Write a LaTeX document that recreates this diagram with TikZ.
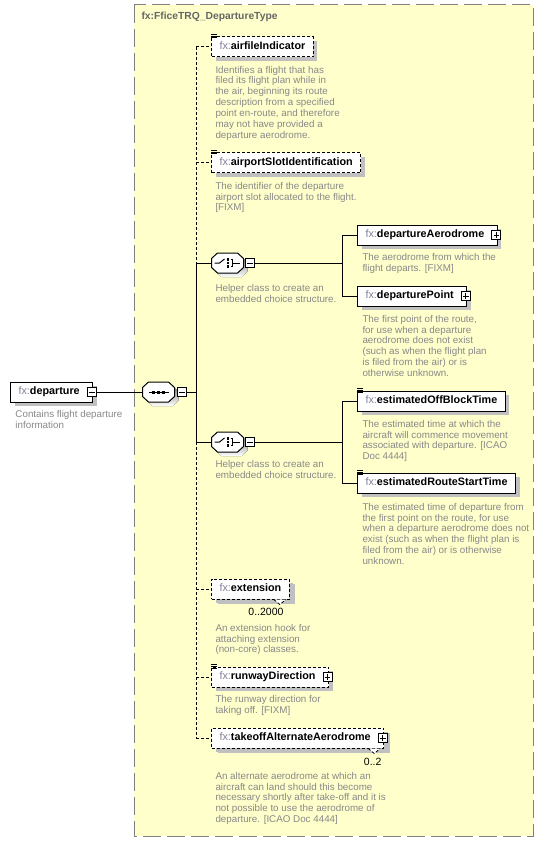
\documentclass[tikz,border=0pt]{standalone}
\usepackage{fontspec}
\setmainfont{Liberation Sans}
\usetikzlibrary{positioning,shadows}
\definecolor{schemabg}{RGB}{255,255,204}
\definecolor{schemaedge}{RGB}{128,128,128}
\definecolor{titlegray}{RGB}{102,102,102}
\definecolor{annotgray}{RGB}{136,136,136}
\definecolor{prefixgray}{RGB}{128,128,150}
\definecolor{shade}{RGB}{192,192,192}
\newcommand{\fxname}[1]{{\color{prefixgray}fx:}\textbf{#1}}

\begin{document}
\begin{tikzpicture}[x=1pt, y=-1pt, line width=1pt,
    elem/.style={draw, fill=white, anchor=west, minimum height=20pt,
                 inner xsep=8pt, inner ysep=0pt, text height=7.6pt, text depth=2.2pt,
                 font=\fontsize{10.8}{12}\selectfont,
                 drop shadow={shadow xshift=4pt, shadow yshift=-4pt, fill=shade, opacity=1}},
    opt/.style={dash pattern=on 3pt off 2pt},
    many/.style={drop shadow={shadow xshift=6pt, shadow yshift=-5pt, fill=shade, opacity=1}},
    kids/.style={execute at end node={\hspace{5pt}}},
    compositor/.style={anchor=west, minimum width=32pt, minimum height=20pt, inner sep=0pt},
    minusbox/.style={draw, fill=white, minimum size=9pt, inner sep=0pt,
                     path picture={\draw ([xshift=-2.8pt]path picture bounding box.center)
                                        -- ([xshift=2.8pt]path picture bounding box.center);}},
    plusbox/.style={draw, fill=white, minimum size=9pt, inner sep=0pt,
                    path picture={\draw ([xshift=-2.8pt]path picture bounding box.center)
                                       -- ([xshift=2.8pt]path picture bounding box.center);
                                  \draw ([yshift=-2.8pt]path picture bounding box.center)
                                       -- ([yshift=2.8pt]path picture bounding box.center);}},
    annot/.style={anchor=north west, inner sep=0pt, align=left, text=annotgray,
                  font=\fontsize{9.8}{10.9}\selectfont},
    card/.style={anchor=east, inner sep=0pt, font=\fontsize{10.5}{12}\selectfont},
]
\useasboundingbox (0,0) rectangle (544,842);

% Complex type frame
\fill[schemabg] (134,5) rectangle (533,836);
\draw[schemaedge, dash pattern=on 18pt off 6pt] (134,5) rectangle (533,836);
\node[anchor=west, inner sep=0pt, text=titlegray, font=\fontsize{10.3}{12}\selectfont\bfseries]
    (title) at (141,17) {fx:FficeTRQ\_DepartureType};

% Root element and sequence
\node[elem, kids] (dep) at (10,392) {\fxname{departure}};
\node[annot] (depDoc) at (15,409.5) {Contains flight departure\\information};
\node[compositor] (seq) at (142,392) {};

% Children of the sequence
\node[elem, opt] (airfile) at (211,47) {\fxname{airfileIndicator}};
\node[annot] (airfileDoc) at (215,65.5) {Identifies a flight that has\\filed its flight plan while in\\the air, beginning its route\\description from a specified\\point en-route, and therefore\\may not have provided a\\departure aerodrome.};
\node[elem, opt] (slot) at (211,163) {\fxname{airportSlotIdentification}};
\node[annot] (slotDoc) at (215,181.5) {The identifier of the departure\\airport slot allocated to the flight.\\{}[FIXM]};

\node[compositor] (ch1) at (211,263) {};
\node[annot] (ch1Doc) at (215,283.5) {Helper class to create an\\embedded choice structure.};
\node[elem, kids] (depAero) at (357,235) {\fxname{departureAerodrome}};
\node[annot] (depAeroDoc) at (362,252.5) {The aerodrome from which the\\flight departs. [FIXM]};
\node[elem, kids] (depPoint) at (357,296) {\fxname{departurePoint}};
\node[annot] (depPointDoc) at (362,314.5) {The first point of the route,\\for use when a departure\\aerodrome does not exist\\(such as when the flight plan\\is filed from the air) or is\\otherwise unknown.};

\node[compositor] (ch2) at (211,442) {};
\node[annot] (ch2Doc) at (215,459.5) {Helper class to create an\\embedded choice structure.};
\node[elem] (offBlock) at (357,401) {\fxname{estimatedOffBlockTime}};
\node[annot] (offBlockDoc) at (362,419.5) {The estimated time at which the\\aircraft will commence movement\\associated with departure. [ICAO\\Doc 4444]};
\node[elem] (routeStart) at (357,483) {\fxname{estimatedRouteStartTime}};
\node[annot] (routeStartDoc) at (362,502.5) {The estimated time of departure from\\the first point on the route, for use\\when a departure aerodrome does not\\exist (such as when the flight plan is\\filed from the air) or is otherwise\\unknown.};

\node[elem, opt, many] (ext) at (211,589) {\fxname{extension}};
\node[card] (extCard) at (284,612) {0..2000};
\node[annot] (extDoc) at (215,623.5) {An extension hook for\\attaching extension\\(non-core) classes.};
\node[elem, opt, kids] (rwyDir) at (211,677) {\fxname{runwayDirection}};
\node[annot] (rwyDirDoc) at (215,694.5) {The runway direction for\\taking off. [FIXM]};
\node[elem, opt, kids, many] (tkoAlt) at (211,738) {\fxname{takeoffAlternateAerodrome}};
\node[card] (tkoCard) at (382,762) {0..2};
\node[annot] (tkoAltDoc) at (215,771.5) {An alternate aerodrome at which an\\aircraft can land should this become\\necessary shortly after take-off and it is\\not possible to use the aerodrome of\\departure. [ICAO Doc 4444]};

% Compositor outlines (octagons with shadow)
\foreach \c in {seq,ch1,ch2} {
    \fill[shade] ([shift={(4,4)}]\c.center) +(-16,-4.5) -- +(-10,-10) -- +(10,-10) -- +(16,-4.5)
        -- +(16,4.5) -- +(10,10) -- +(-10,10) -- +(-16,4.5) -- cycle;
    \filldraw[fill=white] (\c.center) +(-16,-4.5) -- +(-10,-10) -- +(10,-10) -- +(16,-4.5)
        -- +(16,4.5) -- +(10,10) -- +(-10,10) -- +(-16,4.5) -- cycle;
}

% Expand / collapse buttons
\node[minusbox] (depM) at ([xshift=-1.5pt]dep.east) {};
\node[minusbox, right=2pt of seq] (seqM) {};
\node[minusbox, right=1pt of ch1] (ch1M) {};
\node[minusbox, right=1pt of ch2] (ch2M) {};
\foreach \n in {depAero,depPoint,rwyDir,tkoAlt}
    \node[plusbox] (\n-p) at ([xshift=-1.5pt]\n.east) {};

% Simple content marks and repeat notches
\foreach \n in {airfile,slot,offBlock,routeStart,rwyDir}
    \foreach \dy in {-2,-0.3,1.4}
        \draw[line width=0.8pt] ([shift={(0,\dy)}]\n.north west) -- ++(6,0);
\foreach \n in {ext,tkoAlt}
    \draw[opt, fill=white, line width=0.8pt] ([xshift=-16pt]\n.south east) -- ++(6,5) -- ++(6,-5);

% Compositor icons
\draw ([xshift=-10pt]seq.center) -- ([xshift=10pt]seq.center);
\foreach \dx in {-5,0,5}
    \fill ([xshift=\dx pt]seq.center) +(-1.5,-1.5) rectangle +(1.5,1.5);
\foreach \c in {ch1,ch2} {
    \begin{scope}[shift={(\c.center)}]
        \draw (-13,0) -- (-8,0) -- (-3,-4);
        \foreach \dy in {-3.5,0,3.5}
            \fill (0.5,\dy) +(-1.3,-1.3) rectangle +(1.3,1.3);
        \draw (3,-3.5) -- (5,-3.5) -- (5,3.5) -- (3,3.5);
        \draw (5,0) -- (12,0);
    \end{scope}
}

% Connectors
\coordinate (trunk) at (196,392);
\coordinate (fork1) at (342,263);
\coordinate (fork2) at (342,442);
\draw (depM) -- (seq);
\draw (seqM) -- (trunk);
\draw[opt] (trunk |- airfile) -- (trunk |- ch1);
\draw (trunk |- ch1) -- (trunk |- ch2);
\draw[opt] (trunk |- ch2) -- (trunk |- tkoAlt);
\draw[opt] (trunk |- airfile) -- (airfile);
\draw[opt] (trunk |- slot) -- (slot);
\draw (trunk |- ch1) -- (ch1);
\draw (trunk |- ch2) -- (ch2);
\draw[opt] (trunk |- ext) -- (ext);
\draw[opt] (trunk |- rwyDir) -- (rwyDir);
\draw[opt] (trunk |- tkoAlt) -- (tkoAlt);

\draw (ch1M) -- (fork1);
\draw (fork1 |- depAero) -- (fork1 |- depPoint);
\draw (fork1 |- depAero) -- (depAero);
\draw (fork1 |- depPoint) -- (depPoint);

\draw (ch2M) -- (fork2);
\draw (fork2 |- offBlock) -- (fork2 |- routeStart);
\draw (fork2 |- offBlock) -- (offBlock);
\draw (fork2 |- routeStart) -- (routeStart);

\end{tikzpicture}
\end{document}
